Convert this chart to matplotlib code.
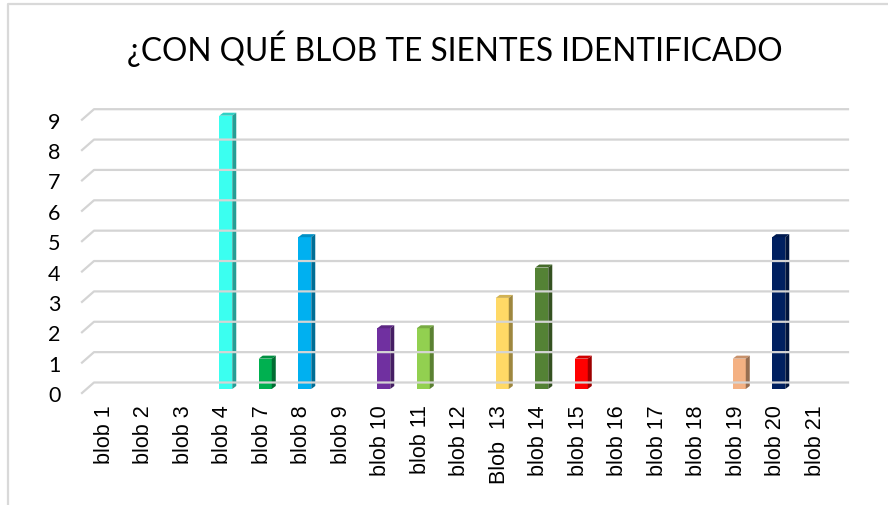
import matplotlib
matplotlib.use("Agg")
import matplotlib.pyplot as plt
import matplotlib.colors as mcolors
from matplotlib.patches import Polygon
from matplotlib.lines import Line2D
from matplotlib.transforms import IdentityTransform, ScaledTranslation
import numpy as np

title = "¿CON QUÉ BLOB TE SIENTES IDENTIFICADO"
categories = ["blob 1", "blob 2", "blob 3", "blob 4", "blob 7", "blob 8", "blob 9",
              "blob 10", "blob 11", "blob 12", "Blob  13", "blob 14", "blob 15",
              "blob 16", "blob 17", "blob 18", "blob 19", "blob 20", "blob 21"]
values = [0, 0, 0, 9, 1, 5, 0, 2, 2, 0, 3, 4, 1, 0, 0, 0, 1, 5, 0]
colors = ["#cccccc", "#cccccc", "#cccccc", "#3BFFF0", "#00B050", "#00B0F0", "#cccccc",
          "#7030A0", "#92D050", "#cccccc", "#FFD966", "#548235", "#FF0000",
          "#cccccc", "#cccccc", "#cccccc", "#F4B183", "#002060", "#cccccc"]
yticks = list(range(10))

W, H = 888, 506
fig = plt.figure(figsize=(W / 100, H / 100), dpi=100)
fig.patch.set_facecolor("white")

ax_l, ax_r, ax_b, ax_t = 87.5, 838.0, 390.0, 116.7
ax = fig.add_axes([ax_l / W, (H - ax_b) / H, (ax_r - ax_l) / W, (ax_b - ax_t) / H])
ax.set_facecolor("none")
for s in ax.spines.values():
    s.set_visible(False)

x = np.arange(len(categories))
bars = ax.bar(x, values, width=0.33, color=colors, linewidth=0, zorder=3)
ax.set_xlim(-0.5, len(categories) - 0.5)
ax.set_ylim(0, 9)
ax.autoscale(False)


def shade(c, f):
    r, g, b = mcolors.to_rgb(c)
    return (r * f, g * f, b * f)


# 3D faces
d = np.array([4.0, 3.0])
for b, c in zip(bars, colors):
    h = b.get_height()
    if h <= 0:
        b.set_visible(False)
        continue
    x0 = b.get_x()
    x1 = x0 + b.get_width()
    tl, tr, br = ax.transData.transform([(x0, h), (x1, h), (x1, 0)])
    top = [tl, tr, tr + d, tl + d]
    side = [br, tr, tr + d, br + d]
    ax.add_patch(Polygon(top, closed=True, transform=IdentityTransform(),
                         facecolor=shade(c, 0.82), lw=0, clip_on=False, zorder=3))
    ax.add_patch(Polygon(side, closed=True, transform=IdentityTransform(),
                         facecolor=shade(c, 0.62), lw=0, clip_on=False, zorder=3))

# back-wall gridlines with perspective stubs
for v in yticks:
    base = ax.transData.transform((0, v))[1]
    xs = [ax_l - 5.5, ax_l + 6.5, ax_r + 10]
    ys = [base - 4, base + 6.5, base + 6.5]
    fig.add_artist(Line2D(xs, ys, transform=IdentityTransform(),
                          color="#D4D4D4", lw=1.6, zorder=1))

# ticks
ax.set_yticks(yticks)
ax.set_yticklabels([str(v) for v in yticks], fontsize=15.5, family=["Lato", "DejaVu Sans"])
ax.tick_params(axis="y", length=0, pad=19.5)
off = ScaledTranslation(0, -4 / 100, fig.dpi_scale_trans)
for lab in ax.get_yticklabels():
    lab.set_transform(lab.get_transform() + off)

ax.set_xticks(x)
ax.set_xticklabels(categories, rotation=90, fontsize=15.5,
                   family=["Liberation Sans", "DejaVu Sans"])
ax.tick_params(axis="x", length=0, pad=11)
offx = ScaledTranslation(-3 / 100, 0, fig.dpi_scale_trans)
for lab in ax.get_xticklabels():
    lab.set_transform(lab.get_transform() + offx)

# title
fig.text(455 / W, 1 - 61 / H, title, ha="center", va="baseline", fontsize=22.8,
         family=["Lato", "DejaVu Sans"], color="#000000")

# chart border
fig.add_artist(Line2D([8 / W, 8 / W, 1.01], [-0.01, 1 - 5 / H, 1 - 5 / H],
                      transform=fig.transFigure, color="#D9D9D9", lw=1.6))

fig.savefig("out.png", dpi=100)
